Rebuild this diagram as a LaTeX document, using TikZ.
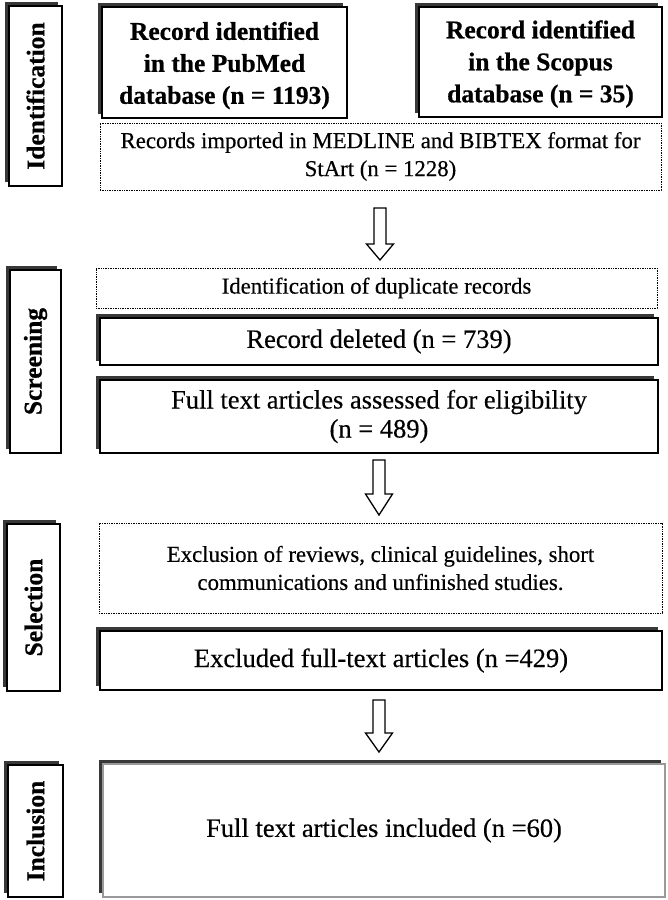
\documentclass[tikz,border=0pt]{standalone}
\usepackage{fontspec}
\setmainfont{Liberation Serif}[UprightFeatures={FakeBold=0.35},BoldFeatures={FakeBold=0.6}]
\usetikzlibrary{calc,shadows}
\begin{document}
\begin{tikzpicture}[x=1pt,y=-1pt,
  shad/.style={drop shadow={shadow xshift=-4pt,shadow yshift=4pt,fill=black!78,opacity=1}},
  sbox/.style={draw=black,line width=1.3pt,fill=white,inner sep=0pt,align=center,shad},
  dbox/.style={draw=black,line width=1pt,dash pattern=on 0.9pt off 0.8pt,fill=white,inner sep=0pt,align=center},
  stagebox/.style={sbox},
  stagetxt/.style={rotate=90,font=\fontsize{25.5}{30}\selectfont\bfseries},
  hdr/.style={align=center,font=\fontsize{25.5}{32}\selectfont\bfseries},
  smalltxt/.style={font=\fontsize{22.8}{28}\selectfont},
  bigtxt/.style={font=\fontsize{26.5}{29}\selectfont},
  blockarr/.style={draw=black,line width=1.3pt,fill=white,line join=miter}
]
\useasboundingbox[fill=white] (0,0) rectangle (667,900);

% stage boxes
\node[stagebox,minimum width=53,minimum height=180] (idS) at (35.5,96) {};
\node[stagetxt] at (idS.center) {Identification};
\node[stagebox,minimum width=51,minimum height=183] (scS) at (35.5,361.5) {};
\node[stagetxt] at (scS.center) {Screening};
\node[stagebox,minimum width=53,minimum height=167] (seS) at (33.5,607.5) {};
\node[stagetxt] at (seS.center) {Selection};
\node[stagebox,minimum width=55,minimum height=132] (inS) at (35.5,831) {};
\node[stagetxt] at (inS.center) {Inclusion};

% identification
\node[sbox,minimum width=245,minimum height=111] (pub) at (224.5,62.5) {};
\node[hdr] at ($(pub.center)+(0,3)$) {Record identified\\in the PubMed\\database (n = 1193)};
\node[sbox,minimum width=243,minimum height=110] (sco) at (540.5,62) {};
\node[hdr] at ($(sco.center)+(0,2)$) {Record identified\\in the Scopus\\database (n = 35)};
\node[dbox,smalltxt,minimum width=561,minimum height=67] (imp) at (380.5,156.5)
  {Records imported in MEDLINE and BIBTEX format for\\StArt (n = 1228)};

% screening
\node[dbox,smalltxt,minimum width=561,minimum height=40] (dup) at (376.5,288)
  {Identification of duplicate records};
\node[sbox,bigtxt,minimum width=558,minimum height=47] (del) at (379,341.5)
  {Record deleted (n = 739)};
\node[sbox,bigtxt,minimum width=558,minimum height=73] (ful) at (379,416.5)
  {Full text articles assessed for eligibility\\(n = 489)};

% selection
\node[dbox,smalltxt,minimum width=563,minimum height=90] (exc) at (380.5,568)
  {Exclusion of reviews, clinical guidelines, short\\communications and unfinished studies.};
\node[sbox,bigtxt,minimum width=562,minimum height=59] (exd) at (381,660.5)
  {Excluded full-text articles (n =429)};

% inclusion
\node[sbox,draw=black!40,bigtxt,minimum width=562,minimum height=133] (inc) at (384,830.5)
  {Full text articles included (n =60)};

% block arrows
\coordinate (a1t) at (380,208);
\coordinate (a1b) at (380,260);
\coordinate (a2t) at (379,460);
\coordinate (a2b) at (379,515);
\coordinate (a3t) at (379,700);
\coordinate (a3b) at (379,752);
\foreach \t/\b/\h in {a1t/a1b/16,a2t/a2b/21,a3t/a3b/19}{
  \draw[blockarr] ($(\t)+(-6,0)$) -- ($(\t)+(6,0)$) -- ($(\b)+(6,-\h)$)
    -- ($(\b)+(13.5,-\h)$) -- (\b) -- ($(\b)+(-13.5,-\h)$)
    -- ($(\b)+(-6,-\h)$) -- cycle;
}
\end{tikzpicture}
\end{document}
